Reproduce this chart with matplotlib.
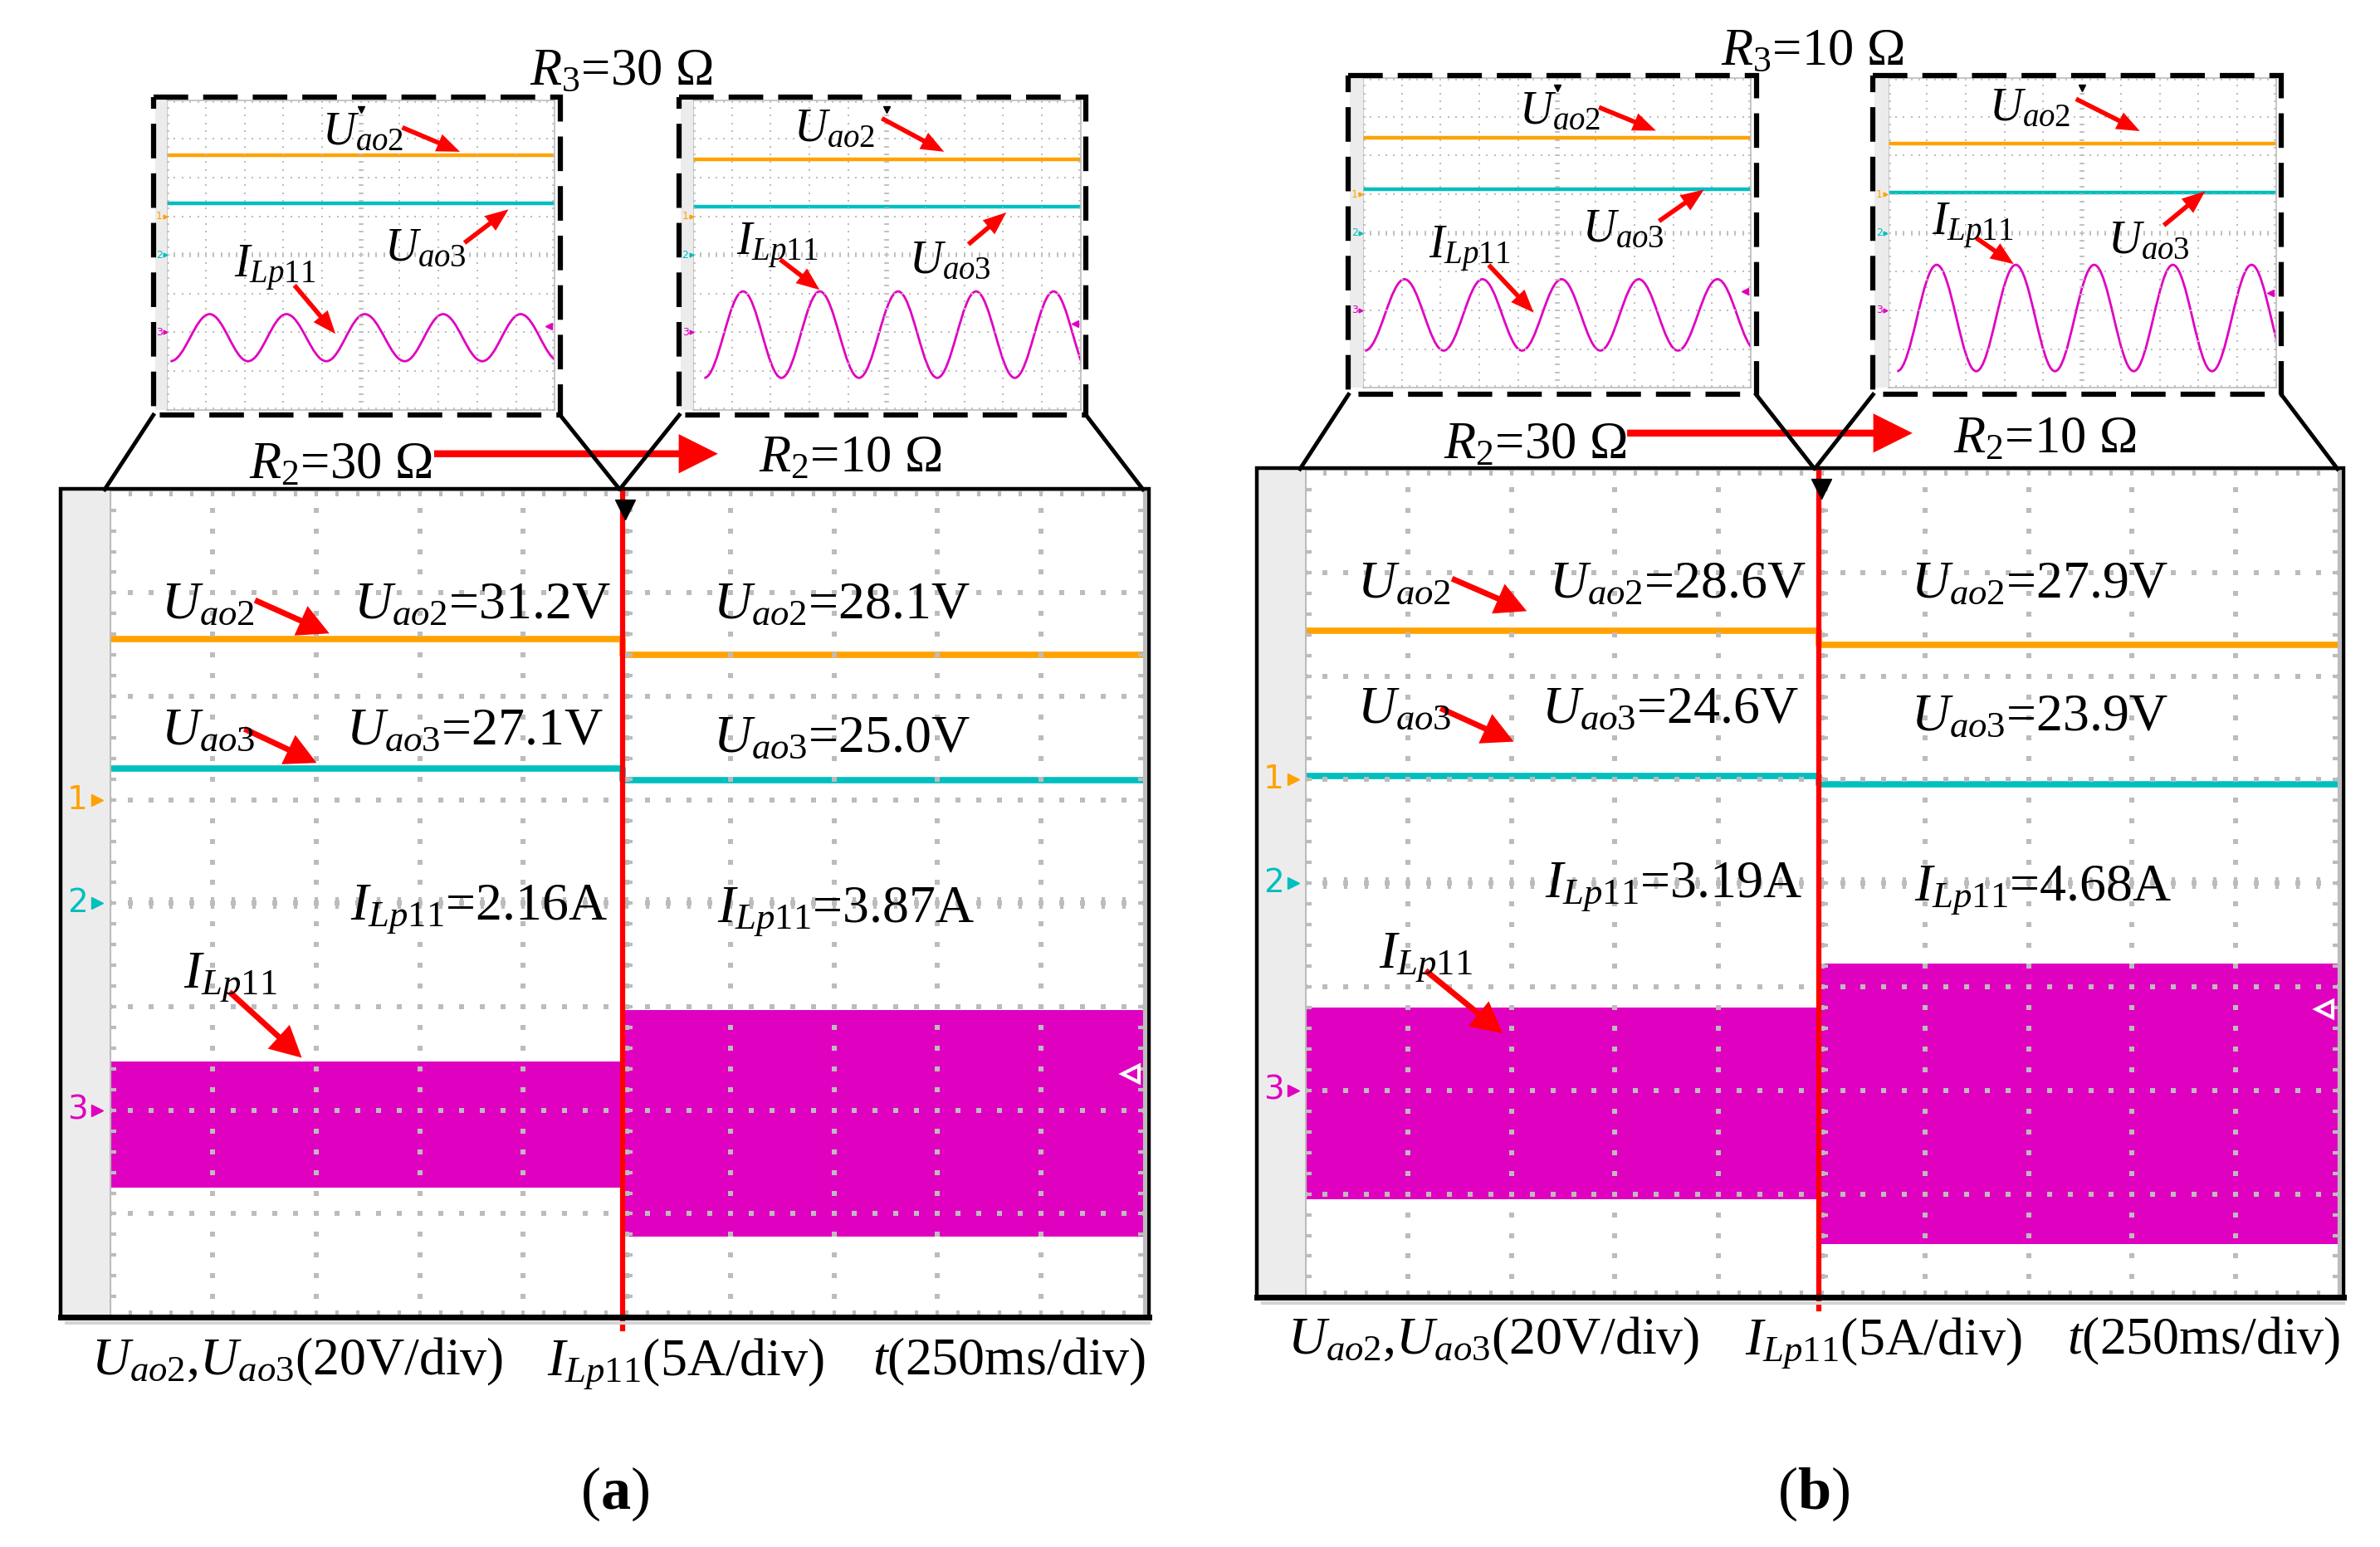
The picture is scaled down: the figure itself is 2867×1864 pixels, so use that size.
#
# 示波器波形图 (a) R3=30Ω, (b) R3=10Ω
#
import numpy as np
import matplotlib
matplotlib.use('Agg')
import matplotlib.pyplot as plt
from matplotlib.patches import Rectangle, FancyArrowPatch, PathPatch
from matplotlib.path import Path
from matplotlib.transforms import blended_transform_factory

plt.rcParams['font.family'] = ['Liberation Serif', 'DejaVu Serif']
plt.rcParams['mathtext.fontset'] = 'custom'
plt.rcParams['mathtext.rm'] = 'Liberation Serif'
plt.rcParams['mathtext.it'] = 'Liberation Serif:italic'
plt.rcParams['mathtext.bf'] = 'Liberation Serif:bold'
plt.rcParams['lines.scale_dashes'] = False

#
# 通道设置 (每格数值, 零点位置/格)
#
CH_SCALE = {'u2': 20.0, 'u3': 20.0, 'i': 5.0}
CH_OFFSET = {'u2': 1.0, 'u3': 0.0, 'i': -2.0}
CH_COLOR = {'u2': '#FFA200', 'u3': '#00BFBF', 'i': '#E000C0'}

#
# 大图数据: 切换前/后 (250ms/div, 共 2.5 s)
#
T_BIG = 2.5
t_switch = [1.240, 1.243]
u2_big = [[31.0, 28.1], [28.8, 26.1]]
u3_big = [[26.1, 23.8], [20.7, 19.1]]
i_hi_big = [[2.34, 4.83], [4.00, 6.14]]
i_lo_big = [[-3.75, -6.09], [-5.24, -7.44]]

#
# 放大图数据 (10ms/div, 共 100 ms), 顺序: aL, aR, bL, bR
#
T_INS = 100.0
u2_ins = [31.4, 29.4, 29.0, 26.3]
u3_ins = [26.7, 25.1, 22.4, 20.8]
i_peak_ins = [2.35, 5.29, 4.02, 5.88]
i_valley_ins = [-3.73, -5.88, -5.20, -7.86]
# 电流极值点时刻 (谷, 峰, 谷, ...)
t_ext_ins = [
    [0.9, 11.0, 20.9, 30.8, 41.1, 51.0, 61.3, 71.2, 81.3, 91.2, 101.2],
    [2.9, 12.9, 22.8, 32.7, 42.8, 52.9, 63.0, 73.0, 83.0, 93.0, 103.0],
    [0.5, 10.7, 20.8, 30.8, 41.0, 51.2, 61.2, 71.1, 81.2, 91.4, 101.5],
    [2.3, 12.5, 22.7, 32.9, 43.0, 53.1, 63.3, 73.4, 83.5, 93.7, 103.8],
]

#
# 版面 (参考图缩小后的坐标单位)
#
W, H = 1568.0, 1019.4
fig = plt.figure(figsize=(28.67, 18.64), dpi=100)
ov = fig.add_axes([0, 0, 1, 1], zorder=20)
ov.set_xlim(0, W)
ov.set_ylim(H, 0)
ov.axis('off')

GRID_COL = '#bcbcbc'
FS_MAIN = 46
FS_INS = 40
FS_TITLE = 45


def scope(grid, tmax, big):
    x0, y0, x1, y1 = grid
    pos = [x0 / W, 1 - y1 / H, (x1 - x0) / W, (y1 - y0) / H]
    ch = {}
    for z, k in enumerate(['i', 'u3', 'u2']):
        a = fig.add_axes(pos, zorder=2 + z)
        a.set_xlim(0, tmax)
        s, o = CH_SCALE[k], CH_OFFSET[k]
        a.set_ylim((-4 - o) * s, (4 - o) * s)
        a.axis('off')
        ch[k] = a
    g = fig.add_axes(pos, zorder=8)
    g.patch.set_alpha(0)
    g.set_xlim(0, 10)
    g.set_ylim(-4, 4)
    dot = 3.7 if big else 1.6
    fx = np.arange(0, 10.001, 0.2)
    fy = np.arange(-4, 4.001, 0.2)
    for xv in range(1, 10):
        g.plot(np.full(fy.size, xv), fy, ls='none', marker='s', ms=dot,
               mew=0, color=GRID_COL)
    for yv in range(-3, 4):
        g.plot(fx, np.full(fx.size, yv), ls='none', marker='s', ms=dot,
               mew=0, color=GRID_COL)
    g.plot(fx, np.zeros(fx.size), ls='none', marker='|',
           ms=10 if big else 4, mew=3 if big else 1.2, color=GRID_COL)
    g.plot(np.full(fy.size, 5), fy, ls='none', marker='_',
           ms=10 if big else 4, mew=3 if big else 1.2, color=GRID_COL)
    g.set_xticks(range(11))
    g.set_yticks(range(-4, 5))
    g.set_xticks(fx, minor=True)
    g.set_yticks(fy, minor=True)
    g.tick_params(which='both', direction='in', top=True, right=True,
                  length=6 if big else 2.2, width=3 if big else 1.2,
                  colors=GRID_COL, labelbottom=False, labelleft=False)
    for sp in g.spines.values():
        sp.set_color(GRID_COL)
        sp.set_linewidth(3 if big else 1.2)
    return g, ch


def ch_marks(grid, xs, size):
    x0, y0, x1, y1 = grid
    for n, k in enumerate(['u2', 'u3', 'i']):
        y = y0 + (4 - CH_OFFSET[k]) * (y1 - y0) / 8
        ov.text(xs[0], y, str(n + 1), color=CH_COLOR[k], fontsize=size,
                family='DejaVu Sans', ha='center', va='center')
        ov.plot(xs[1], y, marker='>', color=CH_COLOR[k], ms=size * 0.38)


def red_arrow(p0, p1, hl, hw, tw):
    ov.add_patch(FancyArrowPatch(
        p0, p1, mutation_scale=1, color='red', lw=0, shrinkA=0, shrinkB=0,
        arrowstyle=f'simple,head_length={hl},head_width={hw},tail_width={tw}'))


def smooth_path(t, y):
    verts = [(t[0], y[0])]
    codes = [Path.MOVETO]
    for j in range(1, len(t)):
        d = (t[j] - t[j - 1]) * 0.364
        verts += [(t[j - 1] + d, y[j - 1]), (t[j] - d, y[j]), (t[j], y[j])]
        codes += [Path.CURVE4] * 3
    return Path(verts, codes)


#
# 大图 (a), (b)
#
frames = [(40, 322, 757, 868), (828, 308.5, 1544, 855)]
grids = [(72, 322.5, 754, 868), (859.5, 309, 1541, 855)]
trig_lvl = [(9.87, -1.65), (9.86, -1.22)]
for p in range(2):
    fx0, fy0, fx1, fy1 = frames[p]
    gx0 = grids[p][0]
    ov.add_patch(Rectangle((fx0, fy0), gx0 - fx0, fy1 - fy0,
                           color='#ececec', lw=0, zorder=0))
    ov.plot([fx0 + 4, fx1], [fy1 + 3.5, fy1 + 3.5], color='#d4d4d4', lw=3)
    ov.add_patch(Rectangle((fx0, fy0), fx1 - fx0, fy1 - fy0, fill=False,
                           ec='k', lw=3.2))
    ov.plot([fx0, fx1], [fy1, fy1], color='k', lw=5)

    g, ch = scope(grids[p], T_BIG, True)
    ts = t_switch[p]
    ch['u2'].plot([0, ts, ts, T_BIG], [u2_big[p][0]] * 2 + [u2_big[p][1]] * 2,
                  color=CH_COLOR['u2'], lw=5.5)
    ch['u3'].plot([0, ts, ts, T_BIG], [u3_big[p][0]] * 2 + [u3_big[p][1]] * 2,
                  color=CH_COLOR['u3'], lw=5.5)
    ch['i'].fill_between([0, ts], i_lo_big[p][0], i_hi_big[p][0],
                         color=CH_COLOR['i'], lw=0)
    ch['i'].fill_between([ts, T_BIG], i_lo_big[p][1], i_hi_big[p][1],
                         color=CH_COLOR['i'], lw=0)
    tr = blended_transform_factory(ch['u2'].transData, g.transAxes)
    g.plot([ts, ts], [-0.014, 1.0], transform=tr, color='red', lw=4.5,
           clip_on=False, zorder=5)
    g.plot([ts * 1.005], [0.976], transform=tr, marker='v', color='k',
           ms=17, clip_on=False, zorder=6)
    g.plot(*trig_lvl[p], marker='<', mfc='none', mec='white', ms=15, mew=3)
    ch_marks(grids[p], (fx0 + 11, fx0 + 24), 28)

#
# 放大图
#
boxes = [(101, 64, 369, 273.5), (447.5, 64, 715.5, 273.5),
         (888.4, 50, 1157, 260), (1234, 50, 1503, 260)]
ins_grids = [(110, 66, 365.5, 270), (456.6, 66, 712, 270),
             (898, 51.5, 1153.5, 255.5), (1244, 51.5, 1499.5, 255.5)]
ins_trig = [-1.83, -1.78, -1.51, -1.55]
for q in range(4):
    bx0, by0, bx1, by1 = boxes[q]
    gx0, gy0, gx1, gy1 = ins_grids[q]
    ov.add_patch(Rectangle((bx0 + 1, gy0), gx0 - bx0 - 1, gy1 - gy0,
                           color='#ececec', lw=0, zorder=0))
    g, ch = scope(ins_grids[q], T_INS, False)
    ch['u2'].plot([0, T_INS], [u2_ins[q]] * 2, color=CH_COLOR['u2'], lw=3.2)
    ch['u3'].plot([0, T_INS], [u3_ins[q]] * 2, color=CH_COLOR['u3'], lw=3.2)
    vals = [i_valley_ins[q] if j % 2 == 0 else i_peak_ins[q]
            for j in range(len(t_ext_ins[q]))]
    ch['i'].add_patch(PathPatch(smooth_path(t_ext_ins[q], vals), fill=False,
                                ec=CH_COLOR['i'], lw=2))
    g.plot(5, 3.75, marker='v', color='k', ms=6)
    g.plot(9.85, ins_trig[q], marker='<', color=CH_COLOR['i'], ms=6)
    ch_marks(ins_grids[q], (bx0 + 4, bx0 + 8), 9)
    ov.add_patch(Rectangle((bx0, by0), bx1 - bx0, by1 - by0, fill=False,
                           ec='k', lw=4.5, ls=(0, (30, 13))))

#
# 梯形连线
#
for (bl, br, g) in [(boxes[0], boxes[1], grids[0]), (boxes[2], boxes[3], grids[1])]:
    apex = (bl[2] + br[0]) / 2
    ov.plot([bl[0], g[0] - 3], [bl[3], g[1]], color='k', lw=3.5)
    ov.plot([bl[2], apex, br[0]], [bl[3], g[1], bl[3]], color='k', lw=3.5)
    ov.plot([br[2], g[2] - 1], [br[3], g[1]], color='k', lw=3.5)

#
# 文字与箭头
#
U2 = r'$U_{ao2}$'
U3 = r'$U_{ao3}$'
IL = r'$I_{Lp11}$'

# (a)
ov.text(349, 56, r'$R_3$=30 Ω', fontsize=FS_TITLE)
ov.text(164, 315, r'$R_2$=30 Ω', fontsize=FS_TITLE)
ov.text(500, 311, r'$R_2$=10 Ω', fontsize=FS_TITLE)
red_arrow((286, 299), (473, 299), 34, 34, 6)

ov.text(212, 95, U2, fontsize=FS_INS)
red_arrow((265, 84), (303, 100), 20, 16, 4)
ov.text(253, 172, U3, fontsize=FS_INS)
red_arrow((306, 160), (335, 138), 20, 16, 4)
ov.text(154, 183, IL, fontsize=FS_INS)
red_arrow((194, 188), (221, 220), 20, 16, 4)
ov.text(523, 93, U2, fontsize=FS_INS)
red_arrow((581, 78), (622, 100), 20, 16, 4)
ov.text(485, 168, IL, fontsize=FS_INS)
red_arrow((514, 171), (540, 191), 20, 16, 4)
ov.text(599, 180, U3, fontsize=FS_INS)
red_arrow((638, 161), (663, 140), 20, 16, 4)

ov.text(106, 407.5, U2, fontsize=FS_MAIN)
red_arrow((168, 395.5), (217, 417.4), 27, 28, 5)
ov.text(233, 407.5, U2 + '=31.2V', fontsize=FS_MAIN)
ov.text(470, 407.5, U2 + '=28.1V', fontsize=FS_MAIN)
ov.text(106, 490.5, U3, fontsize=FS_MAIN)
red_arrow((161, 480.3), (208.6, 502.7), 27, 28, 5)
ov.text(228, 490.5, U3 + '=27.1V', fontsize=FS_MAIN)
ov.text(470, 495.4, U3 + '=25.0V', fontsize=FS_MAIN)
ov.text(230.6, 605.3, IL + '=2.16A', fontsize=FS_MAIN)
ov.text(472.7, 607.2, IL + '=3.87A', fontsize=FS_MAIN)
ov.text(120.7, 650.4, IL, fontsize=FS_MAIN)
red_arrow((151.2, 653.6), (198.8, 697), 27, 28, 5)

ov.text(196, 905.7, U2 + ',' + U3 + '(20V/div)', fontsize=FS_MAIN, ha='center')
ov.text(452, 905.7, IL + '(5A/div)', fontsize=FS_MAIN, ha='center')
ov.text(665, 905.7, r'$t$(250ms/div)', fontsize=FS_MAIN, ha='center')
ov.text(405, 994, r'($\mathbf{a}$)', fontsize=52, ha='center')

# (b)
ov.text(1134, 43, r'$R_3$=10 Ω', fontsize=FS_TITLE)
ov.text(951, 302, r'$R_2$=30 Ω', fontsize=FS_TITLE)
ov.text(1287, 298, r'$R_2$=10 Ω', fontsize=FS_TITLE)
red_arrow((1072, 285.4), (1260, 285.4), 34, 34, 6)

ov.text(1000.6, 81.5, U2, fontsize=FS_INS)
red_arrow((1053.4, 70.7), (1091, 86.1), 20, 16, 4)
ov.text(1042.6, 159.3, U3, fontsize=FS_INS)
red_arrow((1093, 145.7), (1122.6, 125), 20, 16, 4)
ov.text(941, 170, IL, fontsize=FS_INS)
red_arrow((980.8, 174.6), (1010.4, 206), 20, 16, 4)
ov.text(1310.4, 79.5, U2, fontsize=FS_INS)
red_arrow((1367.7, 65.2), (1409.8, 86.4), 20, 16, 4)
ov.text(1272.4, 155, IL, fontsize=FS_INS)
red_arrow((1302, 156.8), (1326.7, 174), 20, 16, 4)
ov.text(1388.5, 166.7, U3, fontsize=FS_INS)
red_arrow((1425.6, 148.5), (1452.8, 126), 20, 16, 4)

ov.text(894.3, 393.7, U2, fontsize=FS_MAIN)
red_arrow((956.6, 381.3), (1005.9, 402.7), 27, 28, 5)
ov.text(1020.5, 393.7, U2 + '=28.6V', fontsize=FS_MAIN)
ov.text(1258.8, 393.7, U2 + '=27.9V', fontsize=FS_MAIN)
ov.text(894.3, 476.5, U3, fontsize=FS_MAIN)
red_arrow((949, 466.7), (997.3, 488.7), 27, 28, 5)
ov.text(1015.6, 476.5, U3 + '=24.6V', fontsize=FS_MAIN)
ov.text(1258.8, 481.4, U3 + '=23.9V', fontsize=FS_MAIN)
ov.text(1018, 590.7, IL + '=3.19A', fontsize=FS_MAIN)
ov.text(1261.3, 593.2, IL + '=4.68A', fontsize=FS_MAIN)
ov.text(908.2, 637.5, IL, fontsize=FS_MAIN)
red_arrow((939.2, 639.5), (990, 681), 27, 28, 5)

ov.text(984, 892, U2 + ',' + U3 + '(20V/div)', fontsize=FS_MAIN, ha='center')
ov.text(1241, 892, IL + '(5A/div)', fontsize=FS_MAIN, ha='center')
ov.text(1452, 892, r'$t$(250ms/div)', fontsize=FS_MAIN, ha='center')
ov.text(1195, 994, r'($\mathbf{b}$)', fontsize=52, ha='center')

fig.savefig('out.png', dpi=100, facecolor='white')
